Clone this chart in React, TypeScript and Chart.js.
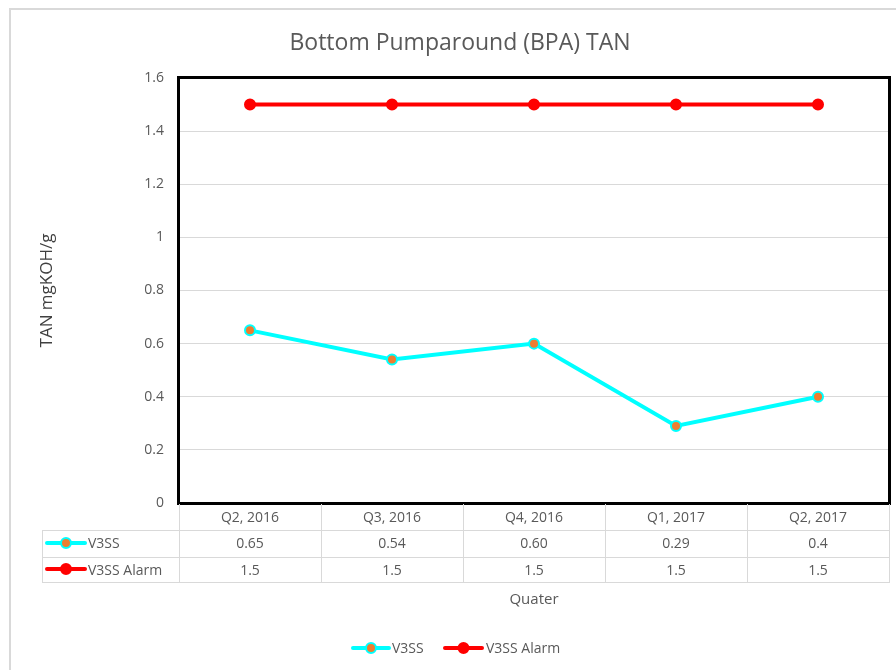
import React, { useEffect, useRef } from "react";
import { Chart, registerables } from "chart.js";

Chart.register(...registerables);

const categories = ["Q2, 2016", "Q3, 2016", "Q4, 2016", "Q1, 2017", "Q2, 2017"];
const v3ssValues = [0.65, 0.54, 0.6, 0.29, 0.4];
const v3ssLabels = ["0.65", "0.54", "0.60", "0.29", "0.4"];
const alarmValues = [1.5, 1.5, 1.5, 1.5, 1.5];
const alarmLabels = ["1.5", "1.5", "1.5", "1.5", "1.5"];
const seriesNames = ["V3SS", "V3SS Alarm"];
const chartTitle = "Bottom Pumparound (BPA) TAN";
const xTitle = "Quater";
const yTitle = "TAN mgKOH/g";

const FONT = '"Open Sans", sans-serif';
const TEXT = "#595959";
const GRID = "#d9d9d9";
const CYAN = "#00FFFF";
const ORANGE = "#ED7D31";
const RED = "#FF0000";

function drawKey(ctx: CanvasRenderingContext2D, x1: number, x2: number, y: number, line: string, fill: string) {
  ctx.save();
  ctx.strokeStyle = line;
  ctx.lineWidth = 4;
  ctx.lineCap = "round";
  ctx.beginPath();
  ctx.moveTo(x1, y);
  ctx.lineTo(x2, y);
  ctx.stroke();
  ctx.beginPath();
  ctx.arc((x1 + x2) / 2, y, 5, 0, Math.PI * 2);
  ctx.fillStyle = fill;
  ctx.fill();
  ctx.lineWidth = 2;
  ctx.strokeStyle = line;
  ctx.stroke();
  ctx.restore();
}

const extrasPlugin = {
  id: "excelExtras",
  beforeDraw(chart: any) {
    const ctx = chart.ctx as CanvasRenderingContext2D;
    ctx.save();
    ctx.fillStyle = "#ffffff";
    ctx.fillRect(0, 0, chart.width, chart.height);
    // outer chart frame
    ctx.strokeStyle = GRID;
    ctx.lineWidth = 2;
    ctx.beginPath();
    ctx.moveTo(10, chart.height);
    ctx.lineTo(10, 9);
    ctx.lineTo(chart.width, 9);
    ctx.stroke();
    // title
    ctx.fillStyle = TEXT;
    ctx.font = `23px ${FONT}`;
    ctx.textAlign = "center";
    ctx.textBaseline = "middle";
    ctx.fillText(chartTitle, 460, 43);
    ctx.restore();
  },
  beforeDatasetsDraw(chart: any) {
    const ctx = chart.ctx as CanvasRenderingContext2D;
    const { left, right, top, bottom } = chart.chartArea;
    ctx.save();
    ctx.strokeStyle = "#000000";
    ctx.lineWidth = 3;
    ctx.strokeRect(left - 0.5, top - 0.5, right - left + 1, bottom - top + 1);
    ctx.restore();
  },
  afterDraw(chart: any) {
    const ctx = chart.ctx as CanvasRenderingContext2D;
    const { left, right, bottom } = chart.chartArea;
    const xs = chart.scales.x;
    const n = categories.length;
    const colW = (right - left) / n;
    const r1 = bottom + 27;
    const r2 = bottom + 54;
    const r3 = bottom + 79;
    const tableLeft = 42;
    ctx.save();
    ctx.strokeStyle = GRID;
    ctx.lineWidth = 1;
    ctx.beginPath();
    for (let i = 0; i <= n; i++) {
      const x = Math.round(left + i * colW) + 0.5;
      ctx.moveTo(x, bottom + 1);
      ctx.lineTo(x, r3);
    }
    ctx.moveTo(tableLeft + 0.5, r1);
    ctx.lineTo(tableLeft + 0.5, r3);
    [r1, r2, r3].forEach((y) => {
      ctx.moveTo(tableLeft, y + 0.5);
      ctx.lineTo(right + 1, y + 0.5);
    });
    ctx.stroke();

    ctx.fillStyle = TEXT;
    ctx.font = `14px ${FONT}`;
    ctx.textAlign = "center";
    ctx.textBaseline = "middle";
    categories.forEach((c, i) => {
      const x = xs.getPixelForValue(i);
      ctx.fillText(c, x, bottom + 15);
      ctx.fillText(v3ssLabels[i], x, r1 + 14);
      ctx.fillText(alarmLabels[i], x, r2 + 14);
    });
    // row keys
    drawKey(ctx, 47, 85, r1 + 13, CYAN, ORANGE);
    drawKey(ctx, 47, 85, r2 + 12, RED, RED);
    ctx.fillStyle = TEXT;
    ctx.textAlign = "left";
    ctx.fillText(seriesNames[0], 88, r1 + 14);
    ctx.fillText(seriesNames[1], 88, r2 + 14);

    // x axis title
    ctx.textAlign = "center";
    ctx.font = `15px ${FONT}`;
    ctx.fillText(xTitle, (left + right) / 2, 600);

    // legend
    ctx.font = `14px ${FONT}`;
    ctx.textAlign = "left";
    drawKey(ctx, 353, 389, 648, CYAN, ORANGE);
    ctx.fillText(seriesNames[0], 392, 649);
    drawKey(ctx, 445, 482, 648, RED, RED);
    ctx.fillText(seriesNames[1], 486, 649);
    ctx.restore();
  },
};

export default function App() {
  const ref = useRef<HTMLCanvasElement | null>(null);
  useEffect(() => {
    if (!ref.current) return;
    const chart = new Chart(ref.current, {
      type: "line",
      data: {
        labels: categories,
        datasets: [
          {
            label: seriesNames[0],
            data: v3ssValues,
            borderColor: CYAN,
            borderWidth: 4,
            backgroundColor: ORANGE,
            pointBackgroundColor: ORANGE,
            pointBorderColor: CYAN,
            pointBorderWidth: 2,
            pointRadius: 5,
            tension: 0,
          },
          {
            label: seriesNames[1],
            data: alarmValues,
            borderColor: RED,
            borderWidth: 4,
            backgroundColor: RED,
            pointBackgroundColor: RED,
            pointBorderColor: RED,
            pointBorderWidth: 2,
            pointRadius: 5,
            tension: 0,
          },
        ],
      },
      options: {
        responsive: false,
        animation: false,
        layout: { padding: { top: 78, right: 7, bottom: 167, left: 0 } },
        plugins: {
          legend: { display: false },
          title: { display: false },
          tooltip: { enabled: false },
        },
        scales: {
          x: { type: "category", display: false, offset: true },
          y: {
            min: 0,
            max: 1.6,
            ticks: {
              stepSize: 0.2,
              color: TEXT,
              font: { family: FONT, size: 14 },
              padding: 15,
              callback: (v: any) => String(Number(Number(v).toFixed(1))),
            },
            grid: { color: GRID, drawTicks: false, lineWidth: 1 },
            border: { display: false },
            title: {
              display: true,
              text: yTitle,
              color: "#404040",
              font: { family: FONT, size: 17 },
              padding: { top: 37, bottom: 0 },
            },
            afterFit: (s: any) => {
              s.width = 179;
            },
          },
        },
      },
      plugins: [extrasPlugin],
    });
    return () => chart.destroy();
  }, []);
  return (
    <div style={{ position: "absolute", left: 0, top: 0, width: 896, height: 670 }}>
      <canvas ref={ref} width={896} height={670} style={{ width: 896, height: 670, display: "block" }} />
    </div>
  );
}
